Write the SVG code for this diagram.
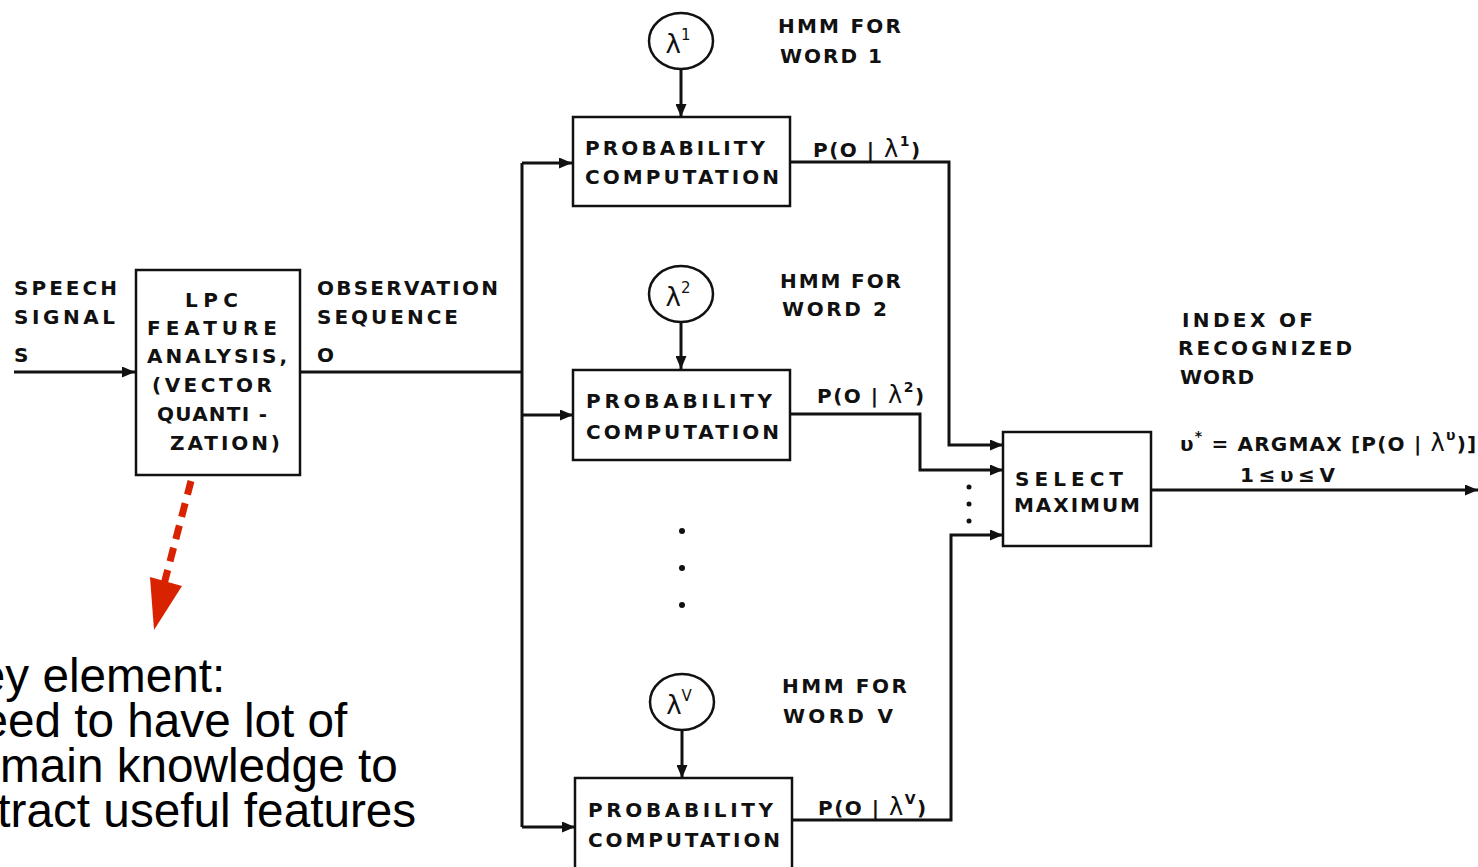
<svg xmlns="http://www.w3.org/2000/svg" width="1478" height="867" viewBox="0 0 1478 867">
<style>
.t{font-family:"DejaVu Sans","Liberation Sans",Arial,sans-serif;font-weight:bold;font-size:20px;fill:#111}
.m{font-family:"DejaVu Sans","Liberation Sans",Arial,sans-serif;font-weight:bold;font-size:20px;fill:#111;letter-spacing:1.5px}
.g{font-family:"DejaVu Sans","Liberation Sans",Arial,sans-serif;font-size:26px;fill:#111}
.box{fill:#fff;stroke:#111;stroke-width:2.5}
.ell{fill:#fff;stroke:#111;stroke-width:2.5}
.ln{fill:none;stroke:#111;stroke-width:3}
.dot{fill:#111}
.note{font-family:"Liberation Sans",Arial,sans-serif;font-size:47.7px;fill:#000}
</style>
<defs>
<marker id="ah" markerUnits="userSpaceOnUse" markerWidth="13" markerHeight="11" refX="13" refY="5.5" orient="auto">
<path d="M0,0 L13,5.5 L0,11 z" fill="#111"/>
</marker>
</defs>

<g id="connectors">
<path class="ln" d="M14,372 H135" marker-end="url(#ah)"/>
<path class="ln" d="M300,372 H522"/>
<path class="ln" d="M522,163 V827"/>
<path class="ln" d="M522,163 H572" marker-end="url(#ah)"/>
<path class="ln" d="M522,415 H573" marker-end="url(#ah)"/>
<path class="ln" d="M522,827 H575" marker-end="url(#ah)"/>
<path class="ln" d="M681,69 V117" marker-end="url(#ah)"/>
<path class="ln" d="M681,322 V369" marker-end="url(#ah)"/>
<path class="ln" d="M682,730 V778" marker-end="url(#ah)"/>
<path class="ln" d="M790,162 H949 V445 H1003" marker-end="url(#ah)"/>
<path class="ln" d="M790,414 H920 V470 H1003" marker-end="url(#ah)"/>
<path class="ln" d="M792,820 H951 V535 H1003" marker-end="url(#ah)"/>
<path class="ln" d="M1151,490 H1478" marker-end="url(#ah)"/>
<g id="red-arrow">
<path d="M191,481 L163,588" fill="none" stroke="#d92300" stroke-width="7" stroke-dasharray="14 9"/>
<polygon points="150,577 182,586 154,630" fill="#d92300"/>
</g>
</g>

<g id="input-labels">
<text class="t" x="14" y="295" textLength="103" lengthAdjust="spacing">SPEECH</text>
<text class="t" x="14" y="324" textLength="101" lengthAdjust="spacing">SIGNAL</text>
<text class="t" x="14" y="362">S</text>
</g>

<g id="lpc">
<rect class="box" x="136" y="270" width="164" height="205"/>
<text class="t" x="185" y="307" textLength="53" lengthAdjust="spacing">LPC</text>
<text class="t" x="147" y="335" textLength="130" lengthAdjust="spacing">FEATURE</text>
<text class="t" x="147" y="363" textLength="140" lengthAdjust="spacing">ANALYSIS,</text>
<text class="t" x="152" y="392" textLength="120" lengthAdjust="spacing">(VECTOR</text>
<text class="t" x="157" y="421" textLength="110" lengthAdjust="spacing">QUANTI -</text>
<text class="t" x="170" y="450" textLength="110" lengthAdjust="spacing">ZATION)</text>
</g>

<g id="obs-labels">
<text class="t" x="317" y="295" textLength="181" lengthAdjust="spacing">OBSERVATION</text>
<text class="t" x="317" y="324" textLength="141" lengthAdjust="spacing">SEQUENCE</text>
<text class="t" x="317" y="362">O</text>
</g>

<g id="hmm1">
<ellipse class="ell" cx="681" cy="41" rx="32" ry="28"/>
<text class="g" x="678" y="53" text-anchor="middle">λ<tspan font-size="15" dy="-13">1</tspan></text>
<text class="t" x="778" y="33" textLength="123" lengthAdjust="spacing">HMM FOR</text>
<text class="t" x="780" y="63" textLength="102" lengthAdjust="spacing">WORD 1</text>
</g>
<g id="prob1">
<rect class="box" x="573" y="117" width="217" height="89"/>
<text class="t" x="585" y="155" textLength="180" lengthAdjust="spacing">PROBABILITY</text>
<text class="t" x="585" y="184" textLength="194" lengthAdjust="spacing">COMPUTATION</text>
<text class="m" x="813" y="157">P(O | <tspan font-size="24" font-weight="normal">λ</tspan><tspan font-size="14" dy="-11">1</tspan><tspan dy="11">)</tspan></text>
</g>

<g id="hmm2">
<ellipse class="ell" cx="681" cy="294" rx="32" ry="28"/>
<text class="g" x="678" y="306" text-anchor="middle">λ<tspan font-size="15" dy="-13">2</tspan></text>
<text class="t" x="780" y="288" textLength="121" lengthAdjust="spacing">HMM FOR</text>
<text class="t" x="782" y="316" textLength="105" lengthAdjust="spacing">WORD 2</text>
</g>
<g id="prob2">
<rect class="box" x="573" y="370" width="217" height="90"/>
<text class="t" x="586" y="408" textLength="186" lengthAdjust="spacing">PROBABILITY</text>
<text class="t" x="586" y="439" textLength="193" lengthAdjust="spacing">COMPUTATION</text>
<text class="m" x="817" y="403">P(O | <tspan font-size="24" font-weight="normal">λ</tspan><tspan font-size="14" dy="-11">2</tspan><tspan dy="11">)</tspan></text>
</g>

<g id="vdots" class="dot">
<circle cx="682" cy="531" r="3"/>
<circle cx="682" cy="568" r="3"/>
<circle cx="682" cy="605" r="3"/>
<circle cx="969" cy="487" r="2.5"/>
<circle cx="969" cy="504" r="2.5"/>
<circle cx="969" cy="521" r="2.5"/>
</g>

<g id="hmmV">
<ellipse class="ell" cx="682" cy="702" rx="32" ry="28"/>
<text class="g" x="679" y="714" text-anchor="middle">λ<tspan font-size="15" dy="-13">V</tspan></text>
<text class="t" x="782" y="693" textLength="125" lengthAdjust="spacing">HMM FOR</text>
<text class="t" x="783" y="723" textLength="110" lengthAdjust="spacing">WORD V</text>
</g>
<g id="probV">
<rect class="box" x="575" y="778" width="217" height="100"/>
<text class="t" x="588" y="817" textLength="185" lengthAdjust="spacing">PROBABILITY</text>
<text class="t" x="588" y="847" textLength="192" lengthAdjust="spacing">COMPUTATION</text>
<text class="m" x="818" y="815">P(O | <tspan font-size="24" font-weight="normal">λ</tspan><tspan font-size="14" dy="-11">V</tspan><tspan dy="11">)</tspan></text>
</g>

<g id="select">
<rect class="box" x="1003" y="432" width="148" height="114"/>
<text class="t" x="1015" y="486" textLength="108" lengthAdjust="spacing">SELECT</text>
<text class="t" x="1014" y="512" textLength="126" lengthAdjust="spacing">MAXIMUM</text>
</g>

<g id="output-labels">
<text class="t" x="1182" y="327" textLength="131" lengthAdjust="spacing">INDEX OF</text>
<text class="t" x="1178" y="355" textLength="174" lengthAdjust="spacing">RECOGNIZED</text>
<text class="t" x="1180" y="384" textLength="74" lengthAdjust="spacing">WORD</text>
<text class="t" x="1180" y="451" letter-spacing="1.2">υ<tspan font-size="14" dy="-10">*</tspan><tspan dy="10"> = ARGMAX [P(O | </tspan><tspan font-size="24" font-weight="normal">λ</tspan><tspan font-size="14" dy="-11">υ</tspan><tspan dy="11">)]</tspan></text>
<text class="t" x="1240" y="482" textLength="95" lengthAdjust="spacing">1≤υ≤V</text>
</g>

<g id="note">
<text class="note" x="-53" y="692">Key element:</text>
<text class="note" x="-53" y="737">Need to have lot of</text>
<text class="note" x="-53" y="782">domain knowledge to</text>
<text class="note" x="-53" y="827">extract useful features</text>
</g>
</svg>
